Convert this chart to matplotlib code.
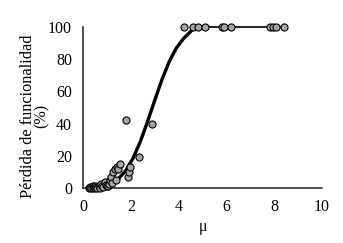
import matplotlib.pyplot as plt

plt.rcParams['font.family'] = ['Liberation Serif', 'DejaVu Serif']

# Observed points (mu, % loss)
mu_obs = [0.25, 0.3, 0.35, 0.4, 0.42, 0.45, 0.5, 0.52, 0.55, 0.6, 0.65, 0.7, 0.72,
          0.75, 0.8, 0.85, 0.9, 0.95, 1.0, 1.05, 1.1, 1.15, 1.18, 1.22, 1.25, 1.32,
          1.36, 1.42, 1.46, 1.53, 1.78, 1.875, 1.92, 1.95, 2.33, 2.89,
          4.21, 4.62, 4.79, 5.1, 5.83, 5.9, 6.2, 7.82, 7.94, 8.06, 8.42]
loss_obs = [0.0, 0.5, 0.0, 1.0, 0.0, 0.5, 1.5, 0.0, 0.5, 0.0, 1.0, 2.0, 0.0,
            2.5, 1.0, 0.5, 3.5, 2.0, 1.0, 1.5, 2.5, 5.0, 7.0, 3.0, 10.1, 11.6,
            5.0, 12.8, 11.8, 14.7, 42.3, 7.0, 10.1, 12.8, 19.4, 39.6,
            100, 100, 100, 100, 100, 100, 100, 100, 100, 100, 100]

# Fitted curve
mu_fit = [0.3, 0.6, 0.9, 1.2, 1.5, 1.8, 2.1, 2.4, 2.7, 3.0, 3.3, 3.6, 3.9, 4.2, 4.5, 4.65, 4.75]
loss_fit = [0.2, 0.5, 1.3, 2.9, 6.0, 11.1, 18.7, 28.9, 41.2, 54.4, 67.1, 78.2, 86.7, 92.6, 97.0, 99.4, 100]

# Plateau line
mu_flat = [4.75, 8.42]
loss_flat = [100, 100]

fig = plt.figure(figsize=(3.43, 2.43), dpi=100)
ax = fig.add_axes([0.242, 0.226, 0.697, 0.664])

ax.plot(mu_fit, loss_fit, color='black', lw=2.4, zorder=2, solid_capstyle='round')
ax.plot(mu_flat, loss_flat, color='black', lw=1.2, zorder=2, clip_on=False)
ax.scatter(mu_obs, loss_obs, s=26, facecolor='#a6a6a6', edgecolor='black',
           linewidth=0.8, zorder=3, clip_on=False)

ax.set_xlim(0, 10)
ax.set_ylim(0, 100)
ax.set_xticks([0, 2, 4, 6, 8, 10])
ax.set_yticks([0, 20, 40, 60, 80, 100])
ax.tick_params(length=0, labelsize=11.5, pad=8)

for side in ['top', 'right']:
    ax.spines[side].set_visible(False)
for side in ['left', 'bottom']:
    ax.spines[side].set_linewidth(1.1)
    ax.spines[side].set_color('#222222')

ax.set_xlabel('μ', fontsize=11.5, labelpad=3)
ax.set_ylabel('Pérdida de funcionalidad\n(%)', fontsize=11.7, linespacing=0.8)
ax.yaxis.set_label_coords(-0.138, 0.447)

fig.savefig('out.png', dpi=100)
